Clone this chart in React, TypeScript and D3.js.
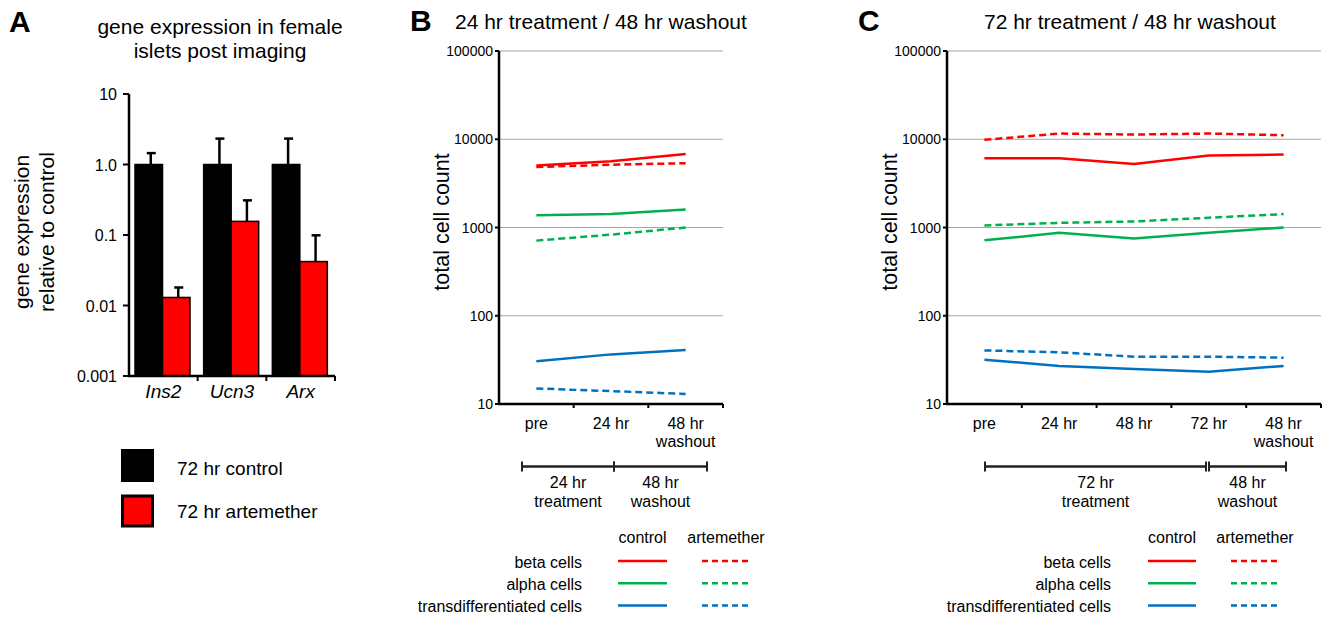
import React from 'react';
import * as d3 from 'd3';

// panel A data
const genes = ['Ins2', 'Ucn3', 'Arx'];
const controlExpr = [1.0, 1.0, 1.0];
const controlErr = [1.45, 2.33, 2.33];
const artExpr = [0.013, 0.156, 0.042];
const artErr = [0.018, 0.31, 0.099];
const exprTicks = [10, 1, 0.1, 0.01, 0.001];
const exprTickLabels = ['10', '1.0', '0.1', '0.01', '0.001'];

// panel B data
const timesB = ['pre', '24 hr', '48 hr\nwashout'];
const betaCtrlB = [5050, 5650, 6800];
const betaArtB = [4850, 5150, 5350];
const alphaCtrlB = [1380, 1420, 1600];
const alphaArtB = [710, 830, 1000];
const transCtrlB = [30.5, 36.5, 41];
const transArtB = [15, 14, 13];

// panel C data
const timesC = ['pre', '24 hr', '48 hr', '72 hr', '48 hr\nwashout'];
const betaCtrlC = [6100, 6100, 5250, 6550, 6700];
const betaArtC = [9850, 11600, 11300, 11600, 11100];
const alphaCtrlC = [715, 870, 750, 870, 1000];
const alphaArtC = [1055, 1130, 1170, 1290, 1420];
const transCtrlC = [31.8, 27, 25, 23.2, 27];
const transArtC = [40.5, 38.5, 34.4, 34.4, 33.5];

const countTicks = [100000, 10000, 1000, 100, 10];

const RED = '#ff0000';
const GREEN = '#00b050';
const BLUE = '#0070c0';
const FONT = '"Liberation Sans", Arial, Helvetica, sans-serif';

function PanelA() {
  const x0 = 129;
  const x1 = 335;
  const yTop = 94;
  const yBot = 376;
  const y = d3.scaleLog().domain([0.001, 10]).range([yBot, yTop]);
  const x = d3.scaleBand().domain(genes).range([x0, x1]);
  const inner = d3.scaleBand().domain(['c', 'a']).range([0, 55]);
  const off = 6;
  return (
    <g fontFamily={FONT}>
      <text x={9} y={32} fontSize={30} fontWeight="bold">A</text>
      <text x={220} y={34} fontSize={21} textAnchor="middle">gene expression in female</text>
      <text x={220} y={58} fontSize={21} textAnchor="middle">islets post imaging</text>
      <g transform={`translate(29, 232) rotate(-90)`}>
        <text x={0} y={0} fontSize={21} textAnchor="middle">gene expression</text>
        <text x={0} y={25} fontSize={21} textAnchor="middle">relative to control</text>
      </g>
      {genes.map((g, i) => {
        const bx = (x(g) as number) + off;
        const bw = inner.bandwidth();
        const cx = bx + bw / 2 + 2;
        const ax = bx + bw + bw / 2 + 2;
        return (
          <g key={g}>
            <line x1={cx} x2={cx} y1={y(controlExpr[i])} y2={y(controlErr[i])} stroke="#000" strokeWidth={2.5} />
            <line x1={cx - 4} x2={cx + 5} y1={y(controlErr[i])} y2={y(controlErr[i])} stroke="#000" strokeWidth={2.5} />
            <line x1={ax} x2={ax} y1={y(artExpr[i])} y2={y(artErr[i])} stroke="#000" strokeWidth={2.5} />
            <line x1={ax - 4} x2={ax + 5} y1={y(artErr[i])} y2={y(artErr[i])} stroke="#000" strokeWidth={2.5} />
            <rect x={bx} y={y(controlExpr[i])} width={bw} height={yBot - y(controlExpr[i])} fill="#000" stroke="#000" strokeWidth={1.5} />
            <rect x={bx + bw} y={y(artExpr[i])} width={bw} height={yBot - y(artExpr[i])} fill={RED} stroke="#000" strokeWidth={1.5} />
            <text x={(x(g) as number) + x.bandwidth() / 2} y={398} fontSize={19} fontStyle="italic" textAnchor="middle">{g}</text>
          </g>
        );
      })}
      <line x1={x0} x2={x0} y1={yTop} y2={yBot} stroke="#000" strokeWidth={2.5} />
      <line x1={x0 - 1} x2={x1} y1={yBot} y2={yBot} stroke="#000" strokeWidth={2.5} />
      {exprTicks.map((t, i) => (
        <g key={t}>
          <line x1={x0 - 6} x2={x0} y1={y(t)} y2={y(t)} stroke="#000" strokeWidth={2} />
          <text x={x0 - 12} y={y(t) + 6} fontSize={16} textAnchor="end">{exprTickLabels[i]}</text>
        </g>
      ))}
      {genes.slice(1).map((g) => (
        <line key={g} x1={x(g)} x2={x(g)} y1={yBot} y2={yBot + 5} stroke="#000" strokeWidth={2} />
      ))}
      <line x1={x1} x2={x1} y1={yBot} y2={yBot + 5} stroke="#000" strokeWidth={2} />
      <rect x={121} y={449} width={33} height={33} fill="#000" />
      <rect x={122.5} y={496} width={30} height={30} fill={RED} stroke="#000" strokeWidth={3} />
      <text x={177} y={475} fontSize={19}>72 hr control</text>
      <text x={177} y={518} fontSize={19}>72 hr artemether</text>
    </g>
  );
}

type Series = { values: number[]; color: string; dashed: boolean };

function LinePanel(props: {
  letter: string;
  title: string;
  letterX: number;
  titleX: number;
  axisX: number;
  endX: number;
  labelX: number;
  times: string[];
  series: Series[];
  spans: { from: number; to: number; label: string[] }[];
  legendRight: number;
  ctrlX: [number, number];
  artX: [number, number];
}) {
  const { axisX, endX, times } = props;
  const yTop = 51;
  const yBot = 404;
  const y = d3.scaleLog().domain([10, 100000]).range([yBot, yTop]);
  const x = d3.scaleBand().domain(times).range([axisX, endX]);
  const cx = (t: string) => (x(t) as number) + x.bandwidth() / 2;
  const line = d3
    .line<[string, number]>()
    .x((d) => cx(d[0]))
    .y((d) => y(d[1]));
  const legendRows = [
    { name: 'beta cells', color: RED },
    { name: 'alpha cells', color: GREEN },
    { name: 'transdifferentiated cells', color: BLUE },
  ];
  const tlY = 466.5;
  return (
    <g fontFamily={FONT}>
      <text x={props.letterX} y={31} fontSize={30} fontWeight="bold">{props.letter}</text>
      <text x={props.titleX} y={29} fontSize={21}>{props.title}</text>
      <text transform={`translate(${props.labelX}, 222) rotate(-90)`} fontSize={21.5} textAnchor="middle">total cell count</text>
      {countTicks.map((t) => (
        <g key={t}>
          {t !== 10 && <line x1={axisX} x2={endX} y1={y(t)} y2={y(t)} stroke="#a6a6a6" strokeWidth={1.2} />}
          <line x1={axisX - 4} x2={axisX} y1={y(t)} y2={y(t)} stroke="#000" strokeWidth={2} />
          <text x={axisX - 6} y={y(t) + 5} fontSize={14} textAnchor="end">{t}</text>
        </g>
      ))}
      {props.series.map((s, i) => (
        <path
          key={i}
          d={line(times.map((t, j) => [t, s.values[j]] as [string, number])) as string}
          fill="none"
          stroke={s.color}
          strokeWidth={2.5}
          strokeDasharray={s.dashed ? '7 4' : undefined}
        />
      ))}
      <line x1={axisX} x2={axisX} y1={yTop} y2={yBot} stroke="#000" strokeWidth={2.5} />
      <line x1={axisX - 1} x2={endX} y1={yBot} y2={yBot} stroke="#000" strokeWidth={2.5} />
      {times.slice(1).map((t) => (
        <line key={t} x1={x(t)} x2={x(t)} y1={yBot} y2={yBot + 4} stroke="#000" strokeWidth={2} />
      ))}
      <line x1={endX} x2={endX} y1={yBot} y2={yBot + 4} stroke="#000" strokeWidth={2} />
      {times.map((t) => (
        <text key={t} x={cx(t)} y={429} fontSize={16} textAnchor="middle">
          {t.split('\n').map((s, k) => (
            <tspan key={k} x={cx(t)} dy={k === 0 ? 0 : 18}>{s}</tspan>
          ))}
        </text>
      ))}
      {props.spans.map((sp, i) => (
        <g key={i}>
          <line x1={sp.from} x2={sp.to} y1={tlY} y2={tlY} stroke="#222" strokeWidth={2.5} />
          <line x1={sp.from} x2={sp.from} y1={tlY - 5} y2={tlY + 5} stroke="#222" strokeWidth={2} />
          <line x1={sp.to} x2={sp.to} y1={tlY - 5} y2={tlY + 5} stroke="#222" strokeWidth={2} />
          {sp.label.map((s, k) => (
            <text key={k} x={(sp.from + sp.to) / 2} y={488 + k * 19} fontSize={16} textAnchor="middle">{s}</text>
          ))}
        </g>
      ))}
      <text x={(props.ctrlX[0] + props.ctrlX[1]) / 2} y={543} fontSize={16} textAnchor="middle">control</text>
      <text x={(props.artX[0] + props.artX[1]) / 2} y={543} fontSize={16} textAnchor="middle">artemether</text>
      {legendRows.map((r, i) => (
        <g key={r.name}>
          <text x={props.legendRight} y={568 + i * 22} fontSize={16} textAnchor="end">{r.name}</text>
          <line x1={props.ctrlX[0]} x2={props.ctrlX[1]} y1={561 + i * 22.3} y2={561 + i * 22.3} stroke={r.color} strokeWidth={2.5} />
          <line x1={props.artX[0]} x2={props.artX[1]} y1={561 + i * 22.3} y2={561 + i * 22.3} stroke={r.color} strokeWidth={2.5} strokeDasharray="6 4" />
        </g>
      ))}
    </g>
  );
}

export default function App() {
  const seriesB: Series[] = [
    { values: betaCtrlB, color: RED, dashed: false },
    { values: betaArtB, color: RED, dashed: true },
    { values: alphaCtrlB, color: GREEN, dashed: false },
    { values: alphaArtB, color: GREEN, dashed: true },
    { values: transCtrlB, color: BLUE, dashed: false },
    { values: transArtB, color: BLUE, dashed: true },
  ];
  const seriesC: Series[] = [
    { values: betaCtrlC, color: RED, dashed: false },
    { values: betaArtC, color: RED, dashed: true },
    { values: alphaCtrlC, color: GREEN, dashed: false },
    { values: alphaArtC, color: GREEN, dashed: true },
    { values: transCtrlC, color: BLUE, dashed: false },
    { values: transArtC, color: BLUE, dashed: true },
  ];
  return (
    <svg width={1327} height={621} style={{ position: 'absolute', left: 0, top: 0, background: '#fff' }}>
      <rect width={1327} height={621} fill="#fff" />
      <PanelA />
      <LinePanel
        letter="B"
        title="24 hr treatment / 48 hr washout"
        letterX={410}
        titleX={455}
        axisX={499}
        endX={723}
        labelX={449}
        times={timesB}
        series={seriesB}
        spans={[
          { from: 522, to: 614, label: ['24 hr', 'treatment'] },
          { from: 614, to: 707, label: ['48 hr', 'washout'] },
        ]}
        legendRight={582}
        ctrlX={[618, 667]}
        artX={[702, 750]}
      />
      <LinePanel
        letter="C"
        title="72 hr treatment / 48 hr washout"
        letterX={858}
        titleX={984}
        axisX={947}
        endX={1321}
        labelX={897}
        times={timesC}
        series={seriesC}
        spans={[
          { from: 985, to: 1206, label: ['72 hr', 'treatment'] },
          { from: 1209, to: 1286, label: ['48 hr', 'washout'] },
        ]}
        legendRight={1111}
        ctrlX={[1148, 1196]}
        artX={[1231, 1279]}
      />
    </svg>
  );
}
